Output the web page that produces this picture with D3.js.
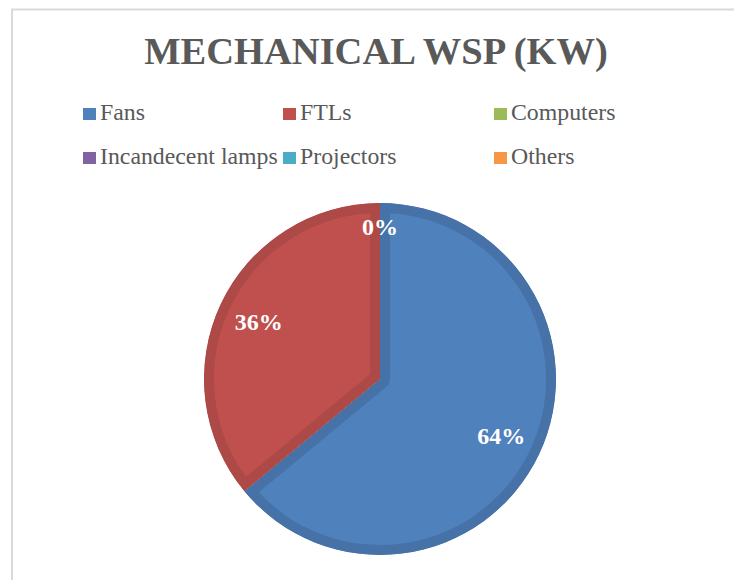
<!DOCTYPE html>
<html>
<head>
<meta charset="utf-8">
<script src="https://cdn.jsdelivr.net/npm/d3@7"></script>
<style>
  body { margin: 0; background: #fff; }
  svg { display: block; }
  text { font-family: "Liberation Serif", "Times New Roman", serif; }
</style>
</head>
<body>
<svg id="chart"></svg>
<script>
  // data
  var categories = ['Fans', 'FTLs', 'Computers', 'Incandecent lamps', 'Projectors', 'Others'];
  var values = [64, 36, 0, 0, 0, 0];
  var fills = ['#4f81bd', '#c0504d', '#9bbb59', '#8064a2', '#4bacc6', '#f79646'];
  var edges = ['#4672a8', '#ad4946', '#8aa84f', '#725a91', '#439ab2', '#de863f'];

  var width = 734;
  var height = 580;
  var cx = 380, cy = 379, radius = 176;

  var svg = d3.select('#chart')
    .attr('width', width)
    .attr('height', height);

  // chart border (only top + left show)
  svg.append('line').attr('x1', 11).attr('x2', width).attr('y1', 9.5).attr('y2', 9.5)
    .attr('stroke', '#d9d9d9').attr('stroke-width', 2);
  svg.append('line').attr('x1', 12).attr('x2', 12).attr('y1', 9).attr('y2', height)
    .attr('stroke', '#d9d9d9').attr('stroke-width', 2);

  // title
  svg.append('text')
    .attr('x', 376)
    .attr('y', 64)
    .attr('text-anchor', 'middle')
    .attr('font-size', 38.5)
    .attr('font-weight', 'bold')
    .attr('fill', '#595959')
    .text('MECHANICAL WSP (KW)');

  // legend, 3 per row
  var colX = [83, 283, 494];
  var rowY = [120, 164];
  var legend = svg.selectAll('.legend').data(categories)
    .enter()
      .append('g')
        .attr('class', 'legend')
        .attr('transform', function (d, i) { return 'translate(' + colX[i % 3] + ',' + rowY[Math.floor(i / 3)] + ')'; });
  legend.append('rect')
    .attr('x', 0).attr('y', -12)
    .attr('width', 13).attr('height', 12)
    .attr('fill', function (d, i) { return fills[i]; });
  legend.append('text')
    .attr('x', 17)
    .attr('y', 0)
    .attr('font-size', 23.8)
    .attr('fill', '#595959')
    .text(function (d) { return d; });

  // pie
  var pie = d3.pie().sort(null).value(function (d) { return d; });
  var arcs = pie(values);
  var arc = d3.arc().innerRadius(0).outerRadius(radius);
  var labelArc = d3.arc().innerRadius(134).outerRadius(134);
  var zeroArc = d3.arc().innerRadius(152).outerRadius(152);
  var total = d3.sum(values);

  var g = svg.append('g').attr('transform', 'translate(' + cx + ',' + cy + ')');
  var defs = svg.append('defs');
  defs.selectAll('clipPath').data(arcs)
    .enter()
      .append('clipPath')
        .attr('id', function (d, i) { return 'clip' + i; })
      .append('path')
        .attr('d', arc);

  g.selectAll('.slice').data(arcs)
    .enter()
      .append('path')
        .attr('class', 'slice')
        .attr('d', arc)
        .attr('fill', function (d, i) { return fills[i]; })
        .attr('stroke', function (d, i) { return edges[i]; })
        .attr('stroke-width', 20)
        .attr('stroke-linejoin', 'round')
        .attr('clip-path', function (d, i) { return 'url(#clip' + i + ')'; });

  // zero slices all sit on top of each other, so draw one label per spot
  var seen = {};
  var labels = arcs.filter(function (d) {
    var key = d.startAngle.toFixed(4) + '_' + (d.value === 0);
    if (seen[key]) return false;
    seen[key] = true;
    return true;
  });
  g.selectAll('.lbl').data(labels)
    .enter()
      .append('text')
        .attr('class', 'lbl')
        .attr('transform', function (d) {
          var c = d.value === 0 ? zeroArc.centroid(d) : labelArc.centroid(d);
          return 'translate(' + c[0] + ',' + c[1] + ')';
        })
        .attr('dy', '0.33em')
        .attr('text-anchor', 'middle')
        .attr('font-size', 24)
        .attr('font-weight', 'bold')
        .attr('fill', '#fff')
        .text(function (d) { return Math.round(d.value / total * 100) + '%'; });
</script>
</body>
</html>
